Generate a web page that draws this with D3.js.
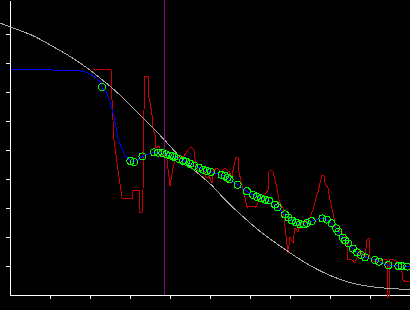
<!DOCTYPE html>
<html>
<head>
<meta charset="utf-8">
<script src="https://cdn.jsdelivr.net/npm/d3@7.9.0/dist/d3.min.js"></script>
<style>
  body { margin: 0; background: #000; }
  svg { display: block; background: #000; shape-rendering: crispEdges; }
</style>
</head>
<body>
<svg id="chart" width="410" height="310"></svg>
<script>
// reference curve (gray)
const refX = [-2.5, 0, 5.75, 10, 14.5, 17, 20, 22.5, 26.25, 30.75, 35, 38.75, 43.25, 47.5, 50.75, 53.25, 57.5, 62, 65, 70, 75, 80, 85, 90, 95, 100];
const refY = [93.8, 92.4, 89.7, 86.2, 82.8, 80.5, 77.6, 74.8, 70.7, 64.5, 58.6, 53.4, 46.2, 41.4, 37.6, 33.4, 27.9, 22.4, 19.3, 14.5, 10, 6.6, 4.1, 2.8, 2.2, 1.9];

// raw signal (red)
const rawX = [20.75, 25.25, 25.5, 26, 27, 28, 30.5, 30.5, 32.25, 32.25, 33, 33.25, 33.5, 33.75, 34.5, 34.5, 35, 35.5, 35.5, 36.25, 36.5, 37.25, 38, 38.75, 39.25, 40, 40.75, 41.5, 42.5, 43.5, 44.5, 45.25, 46, 46.5, 47.25, 48.25, 49, 49.75, 50.5, 51, 51.75, 52.75, 53.75, 54.75, 55.5, 56, 56.5, 57, 57.25, 58, 58.75, 59.25, 60.5, 61.5, 62.25, 63, 63.75, 64.5, 64.75, 65.25, 65.75, 66.25, 66.75, 67.25, 67.75, 68.25, 68.75, 69.5, 70, 70.75, 71.25, 72, 72.5, 73.25, 74.25, 75, 75.75, 76.5, 77, 77.5, 78, 78.5, 78.75, 79.5, 80, 80.75, 81.5, 82.25, 83, 83.75, 84.25, 84.5, 85.5, 86.25, 87, 87.5, 88.25, 88.75, 89.25, 89.75, 90, 91, 92, 93, 94.25, 94.5, 94.75, 95, 96, 97, 97.75, 98.25, 99, 100];
const rawY = [77.9, 77.9, 67.2, 53.4, 43.1, 33.4, 33.4, 36.2, 36.2, 28.6, 28.6, 36.2, 63.8, 75.2, 75.2, 69, 66.6, 62.1, 58.6, 55.2, 50.7, 51.4, 47.9, 50, 46.6, 37.6, 43.8, 47.9, 47.2, 47.9, 50, 51, 50, 43.8, 42.4, 43.8, 40.3, 41, 38.6, 43.1, 43.8, 42.4, 43.8, 42.4, 41, 44.8, 47.6, 47.2, 42.4, 37.9, 33.4, 30.3, 30.7, 30.3, 32.8, 31.7, 34.5, 36.2, 42.4, 43.1, 42.4, 39.7, 36.9, 32.8, 31, 30, 23.4, 14.5, 20, 17.9, 23.1, 21.7, 24.1, 24.8, 25.9, 26.9, 29.3, 33.4, 35.5, 38.6, 41.4, 41, 38.6, 36.9, 32.8, 28.3, 23.1, 22.4, 21.4, 19.7, 17.9, 12.1, 12.1, 11, 13.8, 15.5, 13.8, 13.1, 19, 19.7, 13.1, 11.4, 11.4, 12.1, 12.1, -0.7, -0.7, 12.1, 12.1, 11.4, 10.3, 5.2, 4.5, 4.5];

// smoothed fit (blue), leading part before the markers
const fitX = [0.25, 10.5, 10.75, 17, 19.2, 21.1, 22.5, 23, 24.2, 25.4, 26.25, 26.9, 27.9, 29];
const fitY = [77.8, 77.8, 77.5, 77.4, 76.8, 75.3, 73.6, 71.7, 69.6, 64.9, 59.8, 54.6, 50.6, 47.7];

// sample points (green markers), blue line continues through them
const ptX = [23, 30.1, 31, 33.1, 36, 37, 38.1, 39.1, 40, 40.6, 41.1, 42.25, 43.25, 44, 45.1, 46.1, 47.25, 48.3, 49.2, 50.2, 52.9, 53.75, 54.4, 54.9, 56.9, 59.2, 60.8, 61.7, 62.75, 63.75, 64.75, 66.25, 66.9, 68.75, 69.6, 70.5, 71.5, 72.5, 73.5, 74.25, 75.4, 78.1, 79.2, 80.4, 81.5, 82.1, 83.2, 83.75, 84.6, 85.7, 86.8, 87.75, 88.75, 91.25, 92.25, 94.6, 97.1, 97.9, 99.3];
const ptY = [71.7, 46.2, 45.9, 47.8, 49.2, 49.1, 48.9, 48.5, 48.1, 47.9, 47.6, 46.9, 46.3, 46, 45.2, 44.6, 43.9, 43.2, 42.8, 42.5, 41.4, 41.1, 40.4, 39.9, 38, 35.8, 34.5, 33.9, 33.3, 32.9, 32.6, 31.2, 30.2, 27.8, 26.7, 25.7, 25, 24.4, 24.3, 24.8, 25.5, 26.4, 26, 24.7, 23, 21.8, 19.8, 18.8, 17.8, 16, 14.7, 13.8, 13, 12.1, 11.5, 10.3, 10, 10, 9.8];
const fitEnd = [100, 9.8];

const markerX = 38.6;
const xTicks = [10, 20, 30, 40, 50, 60, 70, 80, 90];
const yTicks = [10, 20, 30, 40, 50, 60, 70, 80, 90];

const svg = d3.select('#chart');
const x = d3.scaleLinear().domain([0, 100]).range([10, 410]);
const y = d3.scaleLinear().domain([0, 295 / 2.9]).range([295, 0]);

svg.append('g')
    .attr('transform', 'translate(0,295)')
    .style('color', '#fff')
    .call(d3.axisBottom(x).tickValues(xTicks).tickFormat('').tickSize(4).tickSizeOuter(0));
svg.append('g')
    .attr('transform', 'translate(10,0)')
    .style('color', '#fff')
    .call(d3.axisLeft(y).tickValues(yTicks).tickFormat('').tickSize(4).tickSizeOuter(0));

const line = d3.line().x(d => x(d[0])).y(d => y(d[1]));

// red raw
svg.append('path')
    .datum(d3.zip(rawX, rawY))
    .attr('d', line)
    .attr('fill', 'none')
    .attr('stroke', '#c80000')
    .attr('stroke-width', 1);

// gray reference
svg.append('path')
    .datum(d3.zip(refX, refY))
    .attr('d', line.curve(d3.curveBasis))
    .attr('fill', 'none')
    .attr('stroke', '#a8a8a8')
    .attr('stroke-width', 1);
line.curve(d3.curveLinear);

// purple marker
svg.append('line')
    .attr('x1', x(markerX)).attr('x2', x(markerX))
    .attr('y1', 0).attr('y2', y(0))
    .attr('stroke', '#8a0a8a')
    .attr('stroke-width', 1);

// blue fit
let fitPts = d3.zip(fitX, fitY)
    .concat(d3.zip(ptX, ptY).filter(d => d[0] > 29))
    .concat([fitEnd]);
fitPts.sort((a, b) => a[0] - b[0]);
svg.append('path')
    .datum(fitPts)
    .attr('d', line)
    .attr('fill', 'none')
    .attr('stroke', '#0000ff')
    .attr('stroke-width', 1);

// green markers
svg.append('g')
    .selectAll('circle')
    .data(d3.zip(ptX, ptY))
    .join('circle')
    .attr('cx', d => x(d[0]))
    .attr('cy', d => y(d[1]))
    .attr('r', 3.5)
    .attr('fill', 'none')
    .attr('stroke', '#00ff00')
    .attr('stroke-width', 1);
</script>
</body>
</html>
